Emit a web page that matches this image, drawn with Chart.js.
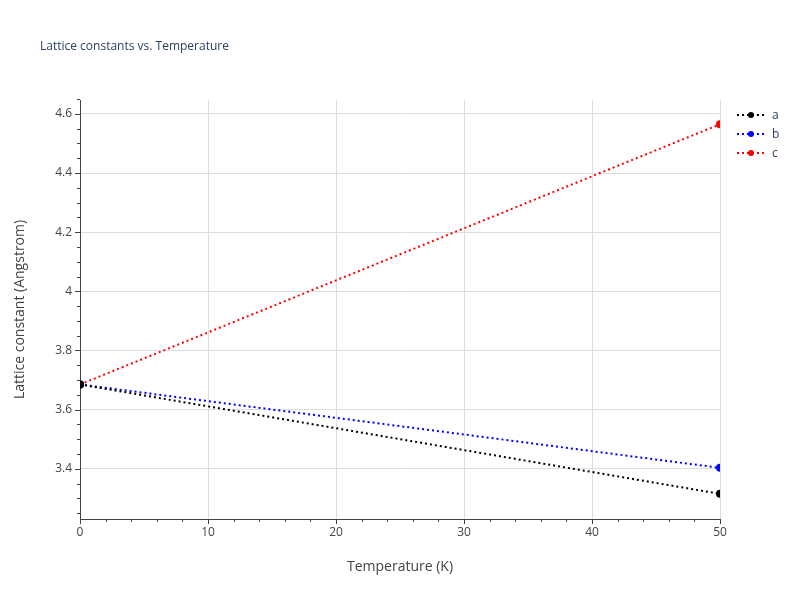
<!DOCTYPE html>
<html>
<head>
<meta charset="utf-8">
<script src="https://cdn.jsdelivr.net/npm/chart.js@4"></script>
<style>
  body { margin: 0; background: #fff; font-family: "Open Sans", sans-serif; }
  #wrap { position: relative; width: 800px; height: 600px; }
  #title { position: absolute; left: 40px; top: 37px; font-size: 12px; color: #2a3f5f; }
  #legend { position: absolute; left: 736px; top: 105px; font-size: 12px; color: #2a3f5f; }
  .lg { display: flex; align-items: center; height: 19px; }
  .lg svg { margin-right: 6px; }
</style>
</head>
<body>
<div id="wrap">
  <canvas id="c" width="800" height="600"></canvas>
  <div id="title">Lattice constants vs. Temperature</div>
  <div id="legend"></div>
</div>
<script>
  const temps = [0, 50];
  const seriesNames = ['a', 'b', 'c'];
  const seriesColors = ['#000000', '#0000ff', '#ff0000'];
  const aValues = [3.685, 3.315];
  const bValues = [3.685, 3.403];
  const cValues = [3.685, 4.565];
  const allValues = [aValues, bValues, cValues];

  const minorTicks = {
    id: 'minorTicks',
    afterDraw(chart) {
      const { ctx, scales: { x, y }, chartArea } = chart;
      ctx.save();
      ctx.strokeStyle = '#444';
      ctx.lineWidth = 1;
      for (let v = 0; v <= 50; v += 2) {
        const px = Math.round(x.getPixelForValue(v)) + 0.5;
        const len = v % 10 === 0 ? 5 : 3;
        ctx.beginPath(); ctx.moveTo(px, chartArea.bottom); ctx.lineTo(px, chartArea.bottom + len); ctx.stroke();
      }
      for (let v = 3.25; v <= 4.65; v += 0.05) {
        const py = Math.round(y.getPixelForValue(v)) + 0.5;
        const major = Math.abs(v * 5 - Math.round(v * 5)) < 1e-6;
        const len = major ? 5 : 3;
        ctx.beginPath(); ctx.moveTo(chartArea.left, py); ctx.lineTo(chartArea.left - len, py); ctx.stroke();
      }
      ctx.restore();
    }
  };

  new Chart(document.getElementById('c'), {
    type: 'line',
    data: {
      datasets: seriesNames.map((n, i) => ({
        label: n,
        data: temps.map((t, j) => ({ x: t, y: allValues[i][j] })),
        borderColor: seriesColors[i],
        backgroundColor: seriesColors[i],
        borderWidth: 2,
        borderDash: [2, 3],
        pointRadius: 3,
        pointHoverRadius: 3,
        fill: false,
      })),
    },
    plugins: [minorTicks],
    options: {
      responsive: false,
      animation: false,
      layout: { padding: { top: 100, right: 80, left: 0, bottom: 0 } },
      plugins: { legend: { display: false }, tooltip: { enabled: false } },
      scales: {
        x: {
          type: 'linear', min: 0, max: 50,
          ticks: { stepSize: 10, color: '#444', font: { family: 'Open Sans', size: 12 }, padding: 6 },
          grid: { color: '#dddddd', drawTicks: false, lineWidth: (c) => (c.tick && c.tick.value === 0 ? 0 : 1) },
          border: { color: '#444', width: 1 },
          title: { display: true, text: 'Temperature (K)', color: '#444', font: { family: 'Open Sans', size: 14 }, padding: { top: 4, bottom: 25 } },
          afterFit(s) { s.height = 81; },
        },
        y: {
          min: 3.23, max: 4.647,
          afterBuildTicks(s) { s.ticks = [3.4, 3.6, 3.8, 4, 4.2, 4.4, 4.6].map((v) => ({ value: v })); },
          ticks: { color: '#444', font: { family: 'Open Sans', size: 12 }, padding: 8, callback: (v) => String(+v.toFixed(1)) },
          grid: { color: '#dddddd', drawTicks: false },
          border: { color: '#444', width: 1 },
          title: { display: true, text: 'Lattice constant (Angstrom)', color: '#444', font: { family: 'Open Sans', size: 14 }, padding: { top: 12, bottom: 4 } },
          afterFit(s) { s.width = 80; },
        },
      },
    },
  });

  document.getElementById('legend').innerHTML = seriesNames.map((n, i) =>
    `<div class="lg"><svg width="30" height="10"><line x1="1" y1="5" x2="29" y2="5" stroke="${seriesColors[i]}" stroke-width="2" stroke-dasharray="2,3"/><circle cx="15" cy="5" r="3" fill="${seriesColors[i]}"/></svg>${n}</div>`).join('');
</script>
</body>
</html>
